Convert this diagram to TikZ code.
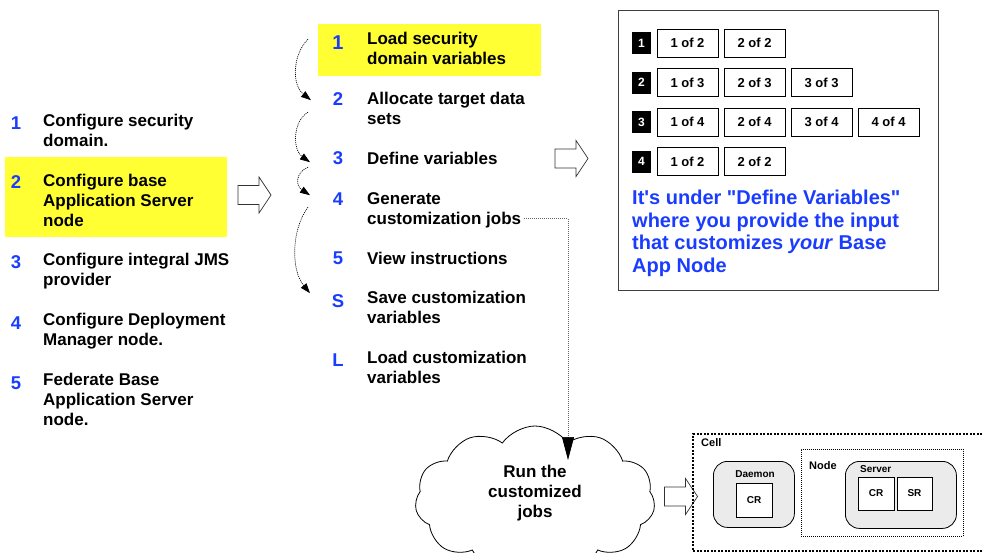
\documentclass[tikz,border=0pt]{standalone}
\usepackage{fontspec}
\setmainfont{Liberation Sans}
\usetikzlibrary{arrows.meta,shapes.symbols}
\definecolor{stepblue}{RGB}{26,60,255}
\definecolor{marker}{RGB}{255,255,51}
\definecolor{boxgray}{RGB}{235,235,235}
\newcommand\itemfont{\fontsize{17}{20}\selectfont\bfseries}
\newcommand\tinyfont{\fontsize{10}{12}\selectfont\bfseries}
\tikzset{
    itemnum/.style={anchor=north,inner sep=0pt,text=stepblue,font=\fontsize{#1}{20}\selectfont\bfseries},
    itemnum/.default=18.5,
    itemtext/.style={anchor=north west,inner sep=0pt,align=left,font=\itemfont},
    stepflow/.style={line width=0.7pt,dash pattern=on 1pt off 1pt,-{Triangle[length=10pt,width=7pt]}},
    jobline/.style={line width=0.7pt,black!60,dash pattern=on 1pt off 1pt,-{Triangle[length=23pt,width=12pt,color=black]}},
    hollowarrow/.pic={\draw[fill=white,draw=black!80,line width=0.7pt] (-16.5,-9.5) -- (4.5,-9.5) -- (4.5,-18) -- (16.5,0) -- (4.5,18) -- (4.5,9.5) -- (-16.5,9.5) -- cycle;},
    partnum/.style={fill=black,text=white,minimum width=19pt,minimum height=22pt,inner sep=0pt,font=\fontsize{12}{14}\selectfont\bfseries},
    partbox/.style={draw,line width=0.8pt,minimum width=61pt,minimum height=28pt,inner sep=0pt,font=\fontsize{13}{15}\selectfont\bfseries},
    region/.style={draw,fill=boxgray,line width=0.8pt,rounded corners=14pt,anchor=north west},
    rtbox/.style={draw,fill=white,line width=0.8pt,inner sep=0pt,font=\tinyfont},
    smalllabel/.style={inner sep=0pt,font=\tinyfont}
}

\begin{document}
\begin{tikzpicture}[x=1pt,y=1pt]
  \useasboundingbox (0,0) rectangle (984,-552);
  \clip (0,0) rectangle (984,-552);

  % Configuration tasks
  \fill[marker] (5,-157) rectangle (227,-237);
  \foreach \n/\ny/\ty/\txt in {1/123/120/{Configure security\\domain.},
      2/182/180/{Configure base\\Application Server\\node},
      3/262/259/{Configure integral JMS\\provider},
      4/323/319/{Configure Deployment\\Manager node.},
      5/383/379/{Federate Base\\Application Server\\node.}}{
    \node[itemnum] (cn\n) at (16,8-\ny) {\strut\n};
    \node[itemtext] (ct\n) at (43,8-\ty) {\strut\txt};
  }
  \pic at (254.5,-195) {hollowarrow};

  % Customization steps
  \fill[marker] (318,-24) rectangle (541,-76);
  \foreach \i/\n/\sz/\ny/\ty/\txt in {1/1/20/43/38/{Load security\\domain variables},
      2/2/18.5/99/98/{Allocate target data\\sets},
      3/3/18.5/158/158/{Define variables},
      4/4/18.5/199/198/{Generate\\customization jobs\strut},
      5/5/18.5/258/258/{View instructions},
      6/S/18.5/301/297/{Save customization\\variables},
      7/L/18.5/360/357/{Load customization\\variables}}{
    \node[itemnum=\sz] (mn\i) at (338,8-\ny) {\strut\n};
    \node[itemtext] (mt\i) at (367,8-\ty) {\strut\txt};
  }
  \draw[stepflow] ([shift={(-30,6)}]mn1.center) .. controls +(-16,-16) and +(-19,15) .. ([shift={(-27,1)}]mn2.center);
  \draw[stepflow] ([shift={(-30,-11)}]mn2.center) .. controls +(-16,-10) and +(-17,12) .. ([shift={(-28,-2)}]mn3.center);
  \draw[stepflow] ([shift={(-30,-7)}]mn3.center) .. controls +(-12,-5) and +(-15,10) .. ([shift={(-28,6)}]mn4.center);
  \draw[stepflow] ([shift={(-30,-6)}]mn4.center) .. controls +(-17,-23) and +(-19,23) .. ([shift={(-28,10)}]mn6.center);
  \pic at (571.5,-158.5) {hollowarrow};

  % Variable panels
  \node[draw=black!75,line width=0.8pt,minimum width=320pt,minimum height=280pt,inner sep=0pt] (varbox) at (778,-150) {};
  \foreach \r/\n in {1/2,2/3,3/4,4/2}{
    \node[partnum] (pn\r) at (641.5,-3.5-39.5*\r) {\r};
    \foreach \k in {1,...,\n}
      \node[partbox] (pb\r\k) at (620.5+67*\k,-3.5-39.5*\r) {\k\ of \n};
  }
  \node[itemtext,text=stepblue,font=\fontsize{20}{22.7}\selectfont\bfseries] (note) at (632,-188.3)
    {\strut It\textquotesingle s under \textquotedbl Define Variables\textquotedbl\\where you provide the input\\that customizes \textit{your} Base\\App Node};

  % Run the jobs
  \node[cloud,draw,line width=0.8pt,cloud puffs=11,cloud puff arc=110,aspect=1.8,minimum width=240pt,minimum height=148pt,text depth=17pt,align=center,font=\itemfont] (runjobs) at (535,-500) {Run the\\customized\\jobs};
  \coordinate (jobtip) at (568,-460);
  \draw[jobline] ([xshift=3pt,yshift=12pt]mt4.south east) -| (jobtip);
  \pic at (681,-496.5) {hollowarrow};

  % Cell
  \node[draw,line width=2pt,dash pattern=on 2pt off 1.5pt,minimum width=310pt,minimum height=117pt,inner sep=0pt,anchor=north west] (cell) at (692,-433) {};
  \node[smalllabel,anchor=west,font=\fontsize{11}{13}\selectfont\bfseries] (celllabel) at (701,-443) {Cell};
  \node[draw,line width=0.6pt,dash pattern=on 1pt off 1pt,minimum width=162pt,minimum height=87pt,inner sep=0pt,anchor=north west] (nodebox) at (801,-449) {};
  \node[smalllabel,anchor=west,font=\fontsize{11}{13}\selectfont\bfseries] (nodelabel) at (809,-466) {Node};
  \node[region,minimum width=81pt,minimum height=66pt] (daemon) at (713,-461) {};
  \node[smalllabel] (daemonlabel) at (755,-474) {Daemon};
  \node[rtbox,minimum width=36pt,minimum height=34pt] (dcr) at (754,-500) {CR};
  \node[region,minimum width=111pt,minimum height=67pt] (server) at (845,-461) {};
  \node[smalllabel,anchor=west] (serverlabel) at (860,-469) {Server};
  \node[rtbox,minimum width=36pt,minimum height=33pt] (scr) at (876,-493.5) {CR};
  \node[rtbox,minimum width=35pt,minimum height=33pt] (ssr) at (914.5,-493.5) {SR};
\end{tikzpicture}
\end{document}
